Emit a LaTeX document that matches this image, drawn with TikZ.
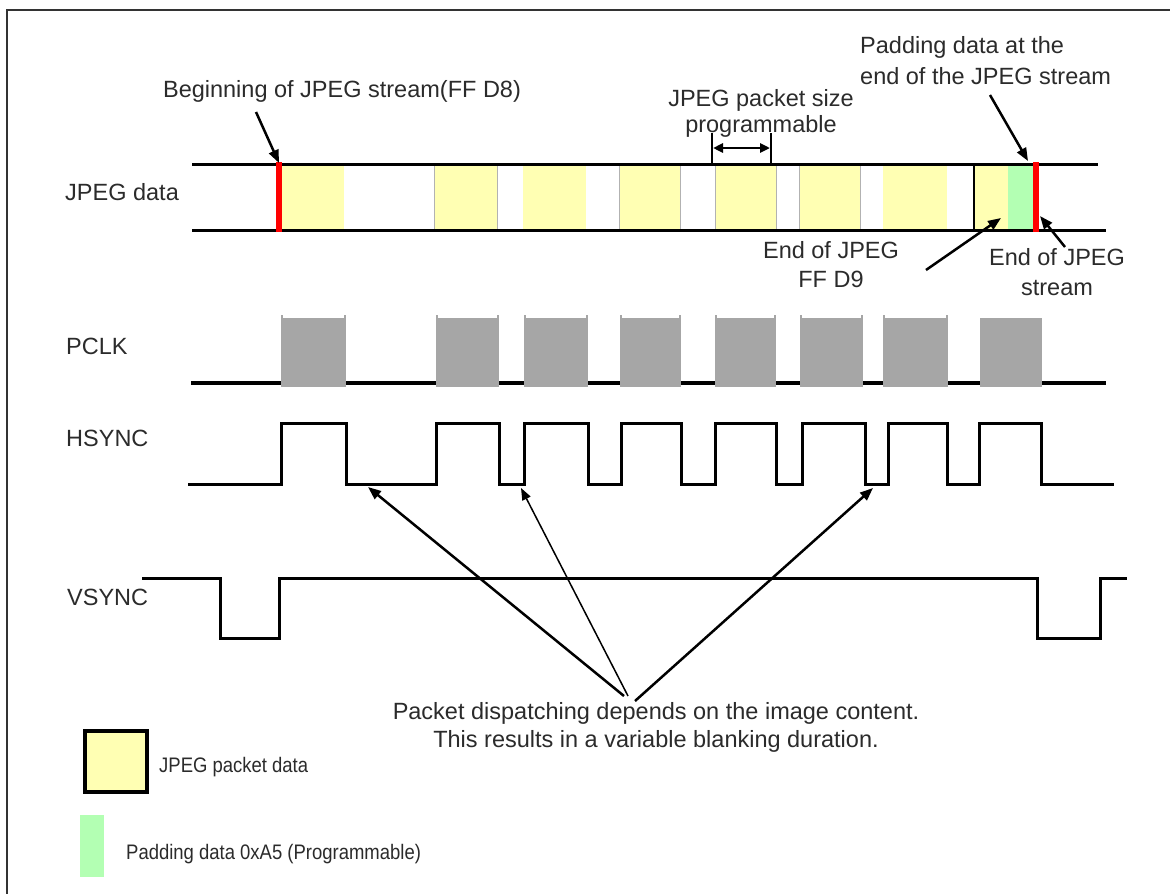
\documentclass[tikz,border=0pt]{standalone}
\usepackage{fontspec}
\setmainfont{Liberation Sans}
\usepackage{graphicx}
\usetikzlibrary{arrows.meta}
\definecolor{pkt}{HTML}{FFFFB3}
\definecolor{pad}{HTML}{B3FFB3}
\definecolor{clk}{HTML}{A6A6A6}
\definecolor{txt}{HTML}{2B2B2B}
\definecolor{mk}{HTML}{FF0000}
\begin{document}
\begin{tikzpicture}[x=1pt,y=-1pt,
  lbl/.style={inner sep=0pt, text=txt, font=\fontsize{23.5}{28}\selectfont},
  small/.style={inner sep=0pt, text=txt, font=\fontsize{21}{24}\selectfont},
  wire/.style={line width=3pt, black},
  sig/.style={line width=3pt, black, line join=miter},
  pktblock/.style={fill=pkt},
  pktedge/.style={draw=gray!60, line width=1pt},
  clkblock/.style={fill=clk},
  tip/.style={-{Triangle[length=13pt,width=10pt]}},
  ptr/.style={line width=2.5pt, tip},
  thinptr/.style={line width=1.5pt, -{Triangle[length=12pt,width=9pt]}},
  dimline/.style={line width=2.5pt, {Triangle[length=10pt,width=9pt]}-{Triangle[length=10pt,width=9pt]}}
]
\useasboundingbox (0,0) rectangle (1170,894);
\fill[white] (0,0) rectangle (1170,894);

% frame
\draw[line width=2pt, black!80] (7,894) -- (7,10) -- (1170,10);

% ---------- JPEG data ----------
\foreach \a/\b in {281/344,434/497,523/586,619/680,715/776,799/860,883/947,975/1008}{
  \fill[pktblock] (\a,164) rectangle (\b,230);
}
\foreach \a/\b in {434/497,619/680,715/776,799/860}{
  \draw[pktedge] (\a,164) -- (\a,230);
  \draw[pktedge] (\b,164) -- (\b,230);
}
\fill[pad] (1008,164) rectangle (1033,230);
\draw[wire] (192,164) -- (1098,164);
\draw[wire] (192,230) -- (1106,230);
\draw[line width=2pt] (974,164) -- (974,230);
\draw[mk, line width=5.5pt] (279,162) -- (279,232);
\draw[mk, line width=5.5pt] (1036,162) -- (1036,232);

% ---------- PCLK ----------
\draw[line width=4.5pt] (191,383) -- (1106,383);
\foreach \a/\b in {281/346,436/499,524/588,620/681,715/776,800/863,883/948}{
  \fill[clkblock] (\a,318) rectangle (\b,387);
  \fill[clkblock] (\a,315) rectangle (\a+2,320);
  \fill[clkblock] (\b-2,315) rectangle (\b,320);
}
\fill[clkblock] (980,318) rectangle (1042,387);

% ---------- HSYNC ----------
\draw[sig] (188,484) -- (281,484) -- (281,423) -- (346,423) -- (346,484)
  -- (436,484) -- (436,423) -- (499,423) -- (499,484)
  -- (524,484) -- (524,423) -- (588,423) -- (588,484)
  -- (621,484) -- (621,423) -- (681,423) -- (681,484)
  -- (715,484) -- (715,423) -- (776,423) -- (776,484)
  -- (802,484) -- (802,423) -- (865,423) -- (865,484)
  -- (888,484) -- (888,423) -- (947,423) -- (947,484)
  -- (979,484) -- (979,423) -- (1041,423) -- (1041,484) -- (1114,484);

% ---------- VSYNC ----------
\draw[sig] (142,578) -- (220,578) -- (220,638) -- (279,638) -- (279,578)
  -- (1037,578) -- (1037,638) -- (1100,638) -- (1100,578) -- (1127,578);

% ---------- labels (multi-line: base = last line) ----------
\node[lbl, anchor=base] (begtxt) at (342,97) {Beginning of JPEG stream(FF D8)};
\node[lbl, anchor=base west] (jdata) at (65,200) {JPEG data};
\node[lbl, anchor=base west, align=left, font=\fontsize{23.5}{31}\selectfont] (padtxt) at (860,84) {Padding data at the\\end of the JPEG stream};
\node[lbl, anchor=base, align=center, font=\fontsize{23.5}{26}\selectfont] (sizetxt) at (761,132) {JPEG packet size\\programmable};
\node[lbl, anchor=base, align=center, font=\fontsize{23.5}{29}\selectfont] (eojtxt) at (831,287) {End of JPEG\\FF D9};
\node[lbl, anchor=base, align=center, font=\fontsize{23.5}{30}\selectfont] (eostxt) at (1057,295) {End of JPEG\\stream};
\node[lbl, anchor=base west] (pclk) at (66,354) {PCLK};
\node[lbl, anchor=base west] (hsync) at (66,446) {HSYNC};
\node[lbl, anchor=base west] (vsync) at (67,605) {VSYNC};
\node[lbl, anchor=base, align=center, font=\fontsize{23.5}{28}\selectfont] (note) at (656,747) {Packet dispatching depends on the image content.\\This results in a variable blanking duration.};

% ---------- arrows (top) ----------
\coordinate (begS) at (256,112);
\coordinate (begE) at (279,163);
\draw[ptr] (begS) -- (begE);

\coordinate (dimL) at (712,133);
\coordinate (dimLb) at (712,164);
\coordinate (dimR) at (771,133);
\coordinate (dimRb) at (771,164);
\draw[line width=2pt] (dimL) -- (dimLb);
\draw[line width=2pt] (dimR) -- (dimRb);
\coordinate (dimA) at (713,148);
\coordinate (dimB) at (770,148);
\draw[dimline] (dimA) -- (dimB);

\coordinate (padS) at (990,95);
\coordinate (padE) at (1028,161);
\draw[ptr] (padS) -- (padE);

\coordinate (eojS) at (926,270);
\coordinate (eojE) at (1001,218);
\draw[ptr] (eojS) -- (eojE);

\coordinate (eosS) at (1065,247);
\coordinate (eosE) at (1040,216);
\draw[ptr] (eosS) -- (eosE);

% ---------- pointer arrows to HSYNC ----------
\coordinate (cvA) at (624,696);
\coordinate (cvB) at (628,696);
\coordinate (cvC) at (635,701);
\coordinate (hA) at (368,487);
\coordinate (hB) at (521,488);
\coordinate (hC) at (873,488);
\draw[ptr] (cvA) -- (hA);
\draw[thinptr] (cvB) -- (hB);
\draw[ptr] (cvC) -- (hC);

% ---------- legend ----------
\filldraw[fill=pkt, draw=black, line width=4pt] (85,731) rectangle (147,792);
\node[small, anchor=base west] (lg1) at (159,772) {\scalebox{0.88}[1]{JPEG packet data}};
\fill[pad] (80,815) rectangle (104,877);
\node[small, anchor=base west] (lg2) at (126,859) {\scalebox{0.88}[1]{Padding data 0xA5 (Programmable)}};
\end{tikzpicture}
\end{document}
